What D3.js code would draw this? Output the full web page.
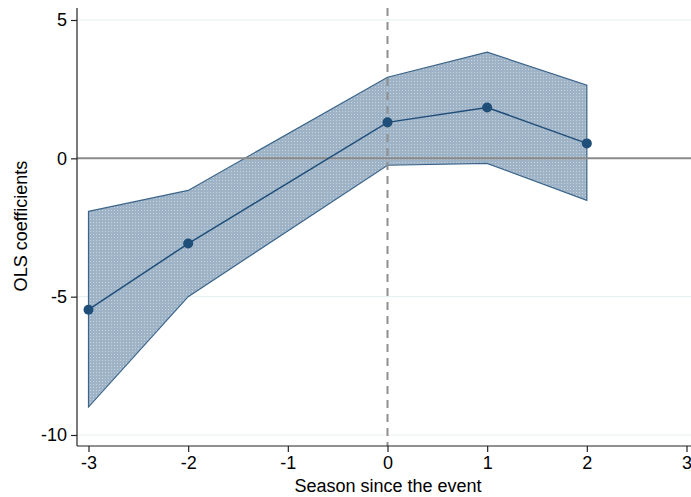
<!DOCTYPE html>
<html>
<head>
<meta charset="utf-8">
<script src="https://cdn.jsdelivr.net/npm/d3@7"></script>
<style>
  html, body { margin: 0; padding: 0; background: #fff; }
  svg { display: block; font-family: "Liberation Sans", Arial, sans-serif; }
</style>
</head>
<body>
<svg id="chart" width="691" height="497"></svg>
<script>
// Event-study estimates by season relative to the event
const seasons = [-3, -2, 0, 1, 2];
const coef    = [-5.47, -3.08, 1.30, 1.84, 0.54];
const ciUpper = [-1.92, -1.16, 2.93, 3.84, 2.64];
const ciLower = [-8.99, -5.00, -0.25, -0.18, -1.52];
const xTicks  = [-3, -2, -1, 0, 1, 2, 3];
const yTicks  = [5, 0, -5, -10];

const svg = d3.select("#chart");
const x = d3.scaleLinear().domain([-3, 3]).range([88.5, 686.5]);
const y = d3.scaleLinear().domain([-10, 5]).range([435, 20]);

const rows = seasons.map((s, i) => ({ s, b: coef[i], hi: ciUpper[i], lo: ciLower[i] }));
const plainNum = d => String(d);   // ASCII hyphen for negatives

// Dotted fill texture for the confidence band
const defs = svg.append("defs");
const pat = defs.append("pattern")
  .attr("id", "bandTexture").attr("patternUnits", "userSpaceOnUse")
  .attr("width", 3).attr("height", 3);
pat.append("rect").attr("width", 3).attr("height", 3).attr("fill", "#9fb3c7");
pat.append("rect").attr("width", 1).attr("height", 1).attr("fill", "#c6d3df");

// Light horizontal gridlines
svg.append("g").selectAll("line")
  .data(yTicks.filter(t => t !== 0)).join("line")
  .attr("x1", 77).attr("x2", 691)
  .attr("y1", d => y(d)).attr("y2", d => y(d))
  .attr("stroke", "#e8f0f2").attr("stroke-width", 1.2);

// Confidence band
const area = d3.area().x(d => x(d.s)).y0(d => y(d.lo)).y1(d => y(d.hi));
svg.append("path").datum(rows)
  .attr("d", area)
  .attr("fill", "url(#bandTexture)")
  .attr("stroke", "#3a648a").attr("stroke-width", 1.2);

// Zero reference line
svg.append("line")
  .attr("x1", 77).attr("x2", 691)
  .attr("y1", y(0)).attr("y2", y(0))
  .attr("stroke", "#8a8a8a").attr("stroke-width", 2);

// Event marker
svg.append("line")
  .attr("x1", x(0)).attr("x2", x(0))
  .attr("y1", 8).attr("y2", 446)
  .attr("stroke", "#8f8f8f").attr("stroke-width", 2)
  .attr("stroke-dasharray", "8,6");

// Point estimates
const line = d3.line().x(d => x(d.s)).y(d => y(d.b));
svg.append("path").datum(rows)
  .attr("d", line).attr("fill", "none")
  .attr("stroke", "#1f4e79").attr("stroke-width", 1.5);
svg.append("g").selectAll("circle").data(rows).join("circle")
  .attr("cx", d => x(d.s)).attr("cy", d => y(d.b)).attr("r", 5)
  .attr("fill", "#1f4e79");

// Axes
const xAxis = d3.axisBottom(x).tickValues(xTicks).tickFormat(plainNum)
  .tickSizeOuter(0).tickSize(6).tickPadding(4);
const gx = svg.append("g").attr("transform", "translate(0,446)").call(xAxis);
gx.select(".domain").remove();
gx.append("line").attr("x1", 77).attr("x2", 691).attr("stroke", "#222").attr("stroke-width", 1.2);

const yAxis = d3.axisLeft(y).tickValues(yTicks).tickFormat(plainNum)
  .tickSizeOuter(0).tickSize(6).tickPadding(4);
const gy = svg.append("g").attr("transform", "translate(77,0)").call(yAxis);
gy.select(".domain").remove();
gy.append("line").attr("y1", 8).attr("y2", 446).attr("stroke", "#222").attr("stroke-width", 1.2);

[gx, gy].forEach(g => {
  g.selectAll(".tick line").attr("stroke", "#222").attr("stroke-width", 1.2);
  g.selectAll(".tick text").attr("fill", "#000")
    .style("font-size", "18px").style("font-family", "Liberation Sans, Arial, sans-serif");
});

// Axis titles
svg.append("text")
  .attr("x", 388).attr("y", 492).attr("text-anchor", "middle")
  .style("font-size", "18px").attr("fill", "#000")
  .text("Season since the event");
svg.append("text")
  .attr("transform", "translate(27,226) rotate(-90)")
  .attr("text-anchor", "middle")
  .style("font-size", "18px").attr("fill", "#000")
  .text("OLS coefficients");
</script>
</body>
</html>
